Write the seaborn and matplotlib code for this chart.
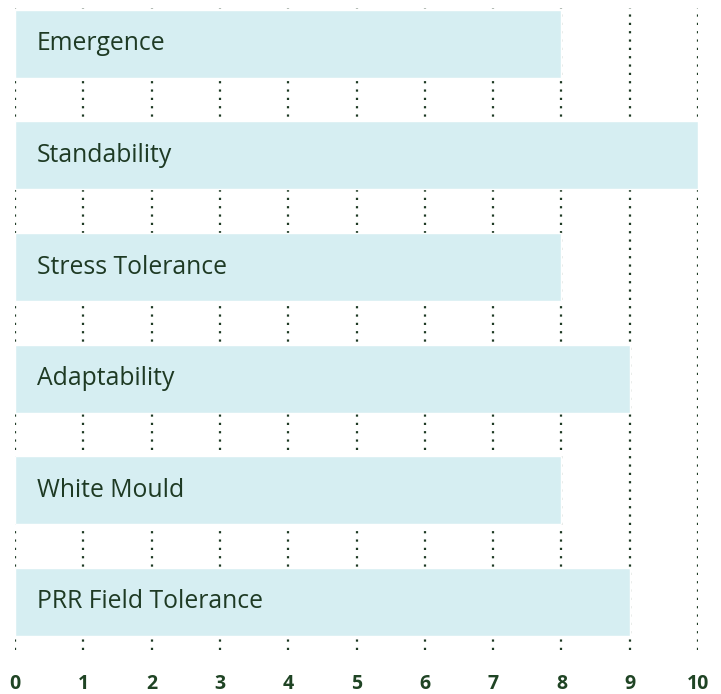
import matplotlib
matplotlib.use("Agg")
import matplotlib.pyplot as plt
import seaborn as sns
import pandas as pd

traits = ["Emergence", "Standability", "Stress Tolerance",
          "Adaptability", "White Mould", "PRR Field Tolerance"]
scores = [8, 10, 8, 9, 8, 9]
ticks = list(range(0, 11))

text_color = "#1e3a24"
tick_color = "#1f4424"
bar_color = "#d6eef2"

sns.set_theme(style="white")
plt.rcParams["font.family"] = ["Open Sans", "DejaVu Sans"]

df = pd.DataFrame({"trait": traits, "score": scores})

fig = plt.figure(figsize=(7.21, 6.94), dpi=100)
ax = fig.add_axes([15 / 721, 1 - 650 / 694, 683 / 721, 642 / 694])

# dotted grid behind the bars
for t in ticks:
    ax.axvline(t, color=text_color, linestyle=(0, (1, 2.75)), linewidth=1.6,
               zorder=0)

sns.barplot(data=df, x="score", y="trait", orient="h", color=bar_color,
            width=0.61, saturation=1, ax=ax, zorder=2)

# labels sit inside the bars
for i, name in enumerate(traits):
    ax.text(0.32, i, name, va="center", ha="left", fontsize=17.8,
            color=text_color, zorder=3)

ax.set_xlim(0, 10)
ax.set_ylim(5.43, -0.32)
ax.set_xticks(ticks)
ax.set_xticklabels([str(t) for t in ticks], fontsize=14, fontweight="bold",
                   color=tick_color)
ax.set_yticks([])
ax.set_xlabel("")
ax.set_ylabel("")
ax.tick_params(axis="x", length=0, pad=17)
for s in ax.spines.values():
    s.set_visible(False)

fig.savefig("out.png", dpi=100)
